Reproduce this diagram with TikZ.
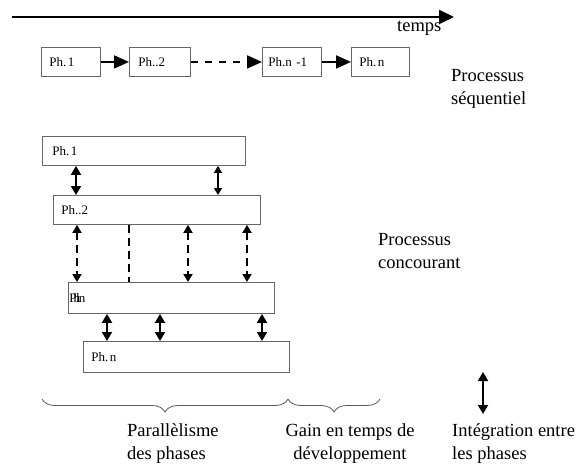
\documentclass[tikz,border=0pt]{standalone}
\usepackage{fontspec}
\setmainfont{Liberation Serif}
\usetikzlibrary{arrows.meta,decorations.pathreplacing}
\begin{document}
\begin{tikzpicture}[x=1pt,y=-1pt,
  box/.style={draw=black!60, line width=0.9pt, anchor=north west, inner sep=0pt,
    font=\fontsize{13}{14}\selectfont, align=left},
  lbl/.style={font=\fontsize{18.5}{23.5}\selectfont, align=left, anchor=north west, inner sep=0pt},
  seqarrow/.style={line width=1.8pt, -{Triangle[length=15pt,width=13pt]}},
  bigdbl/.style={line width=1.8pt, {Triangle[length=9pt,width=10pt]}-{Triangle[length=9pt,width=10pt]}},
  smalldbl/.style={line width=1.3pt, {Triangle[length=7pt,width=8pt]}-{Triangle[length=7pt,width=8pt]}},
  dashdbl/.style={line width=1.8pt, dash pattern=on 8pt off 5pt, {Triangle[length=8pt,width=9pt]}-{Triangle[length=8pt,width=9pt]}},
  brc/.style={draw=black!65, line width=0.8pt, decorate, decoration={brace, mirror, amplitude=13pt, aspect=0.5}}
]
\useasboundingbox (0,0) rectangle (581,468);
% time axis
\coordinate (t0) at (12,17);
\coordinate (t1) at (454,17);
\draw[line width=2pt, -{Triangle[length=15pt,width=14pt]}] (t0) -- (t1);
\node[lbl] (temps) at (397,21) {temps};

% sequential process
\node[box, minimum width=59pt, minimum height=29pt, text width=43pt, inner xsep=8pt] (s1) at (41,47) {Ph.\kern1.5pt 1};
\node[box, minimum width=61pt, minimum height=29pt, text width=43pt, inner xsep=9pt] (s2) at (129,47) {Ph..2};
\node[box, minimum width=59pt, minimum height=29pt, text width=47pt, inner xsep=6pt] (s3) at (262,47) {Ph.n -1};
\node[box, minimum width=58pt, minimum height=29pt, text width=42pt, inner xsep=8pt] (s4) at (351,47) {Ph.\kern1.5pt n};
\draw[seqarrow] (s1) -- (s2);
\draw[seqarrow, dash pattern=on 7pt off 7pt] (s2) -- (s3);
\draw[seqarrow] (s3) -- (s4);
\node[lbl] (seq) at (451,69) {Processus\\séquentiel};

% concurrent process
\node[box, minimum width=203pt, minimum height=29pt, text width=183pt, inner xsep=10pt] (c1) at (42,136) {Ph.\kern1.5pt 1};
\node[box, minimum width=207pt, minimum height=29pt, text width=191pt, inner xsep=8pt] (c2) at (53,195) {Ph..2};
\node[box, minimum width=206pt, minimum height=31pt, text width=204pt, inner xsep=1pt] (c3) at (68,282) {P\kern-3pt h\kern-4pt l\kern-1pt n};
\node[box, minimum width=206pt, minimum height=31pt, text width=190pt, inner xsep=8pt] (c4) at (83,341) {Ph.\kern1.5pt n};

\draw[bigdbl] (c1.south -| 76,0) -- (c2.north -| 76,0);
\draw[smalldbl] (c1.south -| 218,0) -- (c2.north -| 218,0);

\draw[dashdbl] (c2.south -| 77,0) -- (c3.north -| 77,0);
\draw[line width=1.8pt, dash pattern=on 8pt off 5pt] (c2.south -| 129,0) -- (c3.north -| 129,0);
\draw[dashdbl] (c2.south -| 188,0) -- (c3.north -| 188,0);
\draw[dashdbl] (c2.south -| 247,0) -- (c3.north -| 247,0);

\draw[bigdbl] (c3.south -| 107,0) -- (c4.north -| 107,0);
\draw[bigdbl] (c3.south -| 160,0) -- (c4.north -| 160,0);
\draw[bigdbl] (c3.south -| 262,0) -- (c4.north -| 262,0);

\node[lbl] (conc) at (378,233) {Processus\\concourant};

% braces
\coordinate (b0) at (42,399);
\coordinate (b1) at (288,399);
\coordinate (b2) at (380,399);
\draw[brc] (b0) -- (b1);
\draw[brc] (b1) -- (b2);

% legend arrow
\coordinate (l0) at (483,372);
\coordinate (l1) at (483,414);
\draw[bigdbl] (l0) -- (l1);

\node[lbl] (par) at (127,423) {Parallèlisme\\des phases};
\node[lbl, align=center, anchor=north] (gain) at (350,423) {Gain en temps de\\développement};
\node[lbl] (integ) at (452,423) {Intégration entre\\les phases};
\end{tikzpicture}
\end{document}
